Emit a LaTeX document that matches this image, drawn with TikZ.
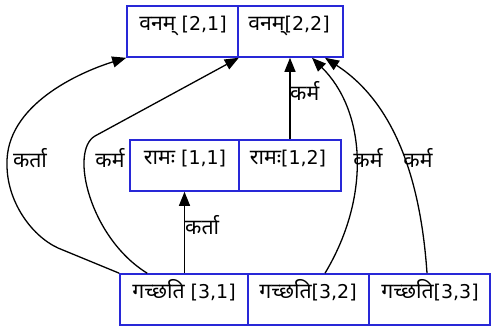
\documentclass[tikz,border=0pt]{standalone}
\usepackage{fontspec}
\setmainfont{DejaVu Sans}
\newfontfamily\deva[Script=Devanagari,Scale=1.12]{Noto Sans}
\usetikzlibrary{arrows.meta,calc}
\definecolor{recblue}{RGB}{40,40,215}
\tikzset{
  field/.style={draw=recblue, line width=1.6pt, rectangle, inner sep=0pt},
  celltext/.style={inner sep=0pt, anchor=base, font=\fontsize{19}{21}\selectfont},
  edgelabel/.style={inner sep=0pt, anchor=base, font=\fontsize{19}{21}\selectfont},
  dep/.style={draw=black, line width=1.3pt, -{Triangle[length=14pt,width=11pt]}},
}
\begin{document}
\begin{tikzpicture}[x=1pt,y=-1pt]
\useasboundingbox (0,0) rectangle (492,326);

% upper record: vanam
\node[field, minimum width=111pt, minimum height=51pt] (t1) at (182.5,31.5) {};
\node[field, minimum width=105pt, minimum height=51pt] (t2) at (290.5,31.5) {};
\node[celltext] (t1txt) at (183,31) {{\deva वनम्} [2,1]};
\node[celltext] (t2txt) at (289,31) {{\deva वनम्}[2,2]};

% middle record: raamah
\node[field, minimum width=109pt, minimum height=51pt] (m1) at (184.5,165.5) {};
\node[field, minimum width=102pt, minimum height=51pt] (m2) at (290,165.5) {};
\node[celltext] (m1txt) at (185,164) {{\deva रामः} [1,1]};
\node[celltext] (m2txt) at (288,164) {{\deva रामः}[1,2]};

% lower record: gacchati
\node[field, minimum width=128pt, minimum height=51pt] (b1) at (184,299.5) {};
\node[field, minimum width=121pt, minimum height=51pt] (b2) at (308.5,299.5) {};
\node[field, minimum width=121pt, minimum height=51pt] (b3) at (429.5,299.5) {};
\node[celltext] (b1txt) at (184,298) {{\deva गच्छति} [3,1]};
\node[celltext] (b2txt) at (308,298) {{\deva गच्छति}[3,2]};
\node[celltext] (b3txt) at (430,298) {{\deva गच्छति}[3,3]};

% dependency arcs
\draw[dep] (b1.north west) -- (58,248) .. controls (30,235) and (7,200) .. (7,165)
  .. controls (5,105) and (80,72) .. (t1.south west);
\draw[dep] ([xshift=28pt]b1.north west) .. controls (90,238) and (69,151) .. (95,136)
  -- (t1.south east);
\draw[dep] (m1.south |- b1.north) -- (m1.south);
\draw[dep] (m2.north) -- (m2.north |- t2.south);
\draw[dep] ([xshift=16.5pt]b2.north) .. controls (372,195) and (365,110) .. ([xshift=21.5pt]t2.south);
\draw[dep] ([xshift=-2.5pt]b3.north) .. controls (420,170) and (390,100) .. ([xshift=34.5pt]t2.south);

% arc labels
\node[edgelabel] (l1) at (30,167) {\deva कर्ता};
\node[edgelabel] (l2) at (110,167) {\deva कर्म};
\node[edgelabel, anchor=base west] (l3) at (185,234) {\deva कर्ता};
\node[edgelabel, anchor=base west] (l4) at (290,101) {\deva कर्म};
\node[edgelabel] (l5) at (368,167) {\deva कर्म};
\node[edgelabel] (l6) at (418,167) {\deva कर्म};
\end{tikzpicture}
\end{document}
